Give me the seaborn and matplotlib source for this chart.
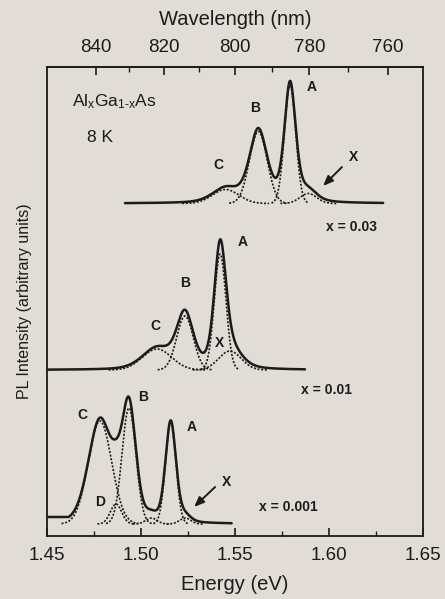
import numpy as np
import pandas as pd
import matplotlib
matplotlib.use("Agg")
import matplotlib.pyplot as plt
from matplotlib.ticker import FixedLocator, MultipleLocator
import seaborn as sns

# ---------------- data ----------------
# energies in eV, intensities in arbitrary units
spectra = ["x = 0.03", "x = 0.01", "x = 0.001"]
offsets = [332.5, 166.0, 12.0]
solid_start = [1.4915, 1.45, 1.45]
solid_end = [1.6288, 1.5872, 1.5482]
tail_fraction = [0.40, 0.35, 0.25]
left_level = [0.0, 0.0, 7.0]
left_level_end = [1.45, 1.45, 1.466]

top_labels = ["A", "B", "C", "X"]
top_centers = [1.5793, 1.5624, 1.5450, 1.5890]
top_heights = [118, 72, 14, 10]
top_widths = [0.0030, 0.0047, 0.0070, 0.0045]

mid_labels = ["A", "B", "C", "X"]
mid_centers = [1.5421, 1.5234, 1.5085, 1.5473]
mid_heights = [116, 54, 21, 19]
mid_widths = [0.0031, 0.0044, 0.0078, 0.0060]

bot_labels = ["A", "B", "C", "D", "X", "-"]
bot_centers = [1.5158, 1.4936, 1.4782, 1.4867, 1.5235, 1.5055]
bot_heights = [101, 116, 103, 20, 6, 6]
bot_widths = [0.0028, 0.0037, 0.0062, 0.0030, 0.0030, 0.0030]

energy_ticks = [1.45, 1.50, 1.55, 1.60, 1.65]
wavelength_ticks = [840, 820, 800, 780, 760]
wavelength_minor = [830, 810, 790, 770]

components = [
    (top_labels, top_centers, top_heights, top_widths),
    (mid_labels, mid_centers, mid_heights, mid_widths),
    (bot_labels, bot_centers, bot_heights, bot_widths),
]

# ---------------- build tables ----------------
def gauss(E, c, h, w):
    return h * np.exp(-0.5 * ((E - c) / w) ** 2)

def pvoigt(E, c, h, w, eta):
    gam = w * np.sqrt(2 * np.log(2))
    return h * (eta / (1 + ((E - c) / gam) ** 2)
                + (1 - eta) * np.exp(-0.5 * ((E - c) / w) ** 2))

solid_rows = []
comp_rows = []
for i, name in enumerate(spectra):
    labs, cs, hs, ws = components[i]
    E = np.linspace(solid_start[i], solid_end[i], 900)
    tot = np.zeros_like(E)
    for c, h, w in zip(cs, hs, ws):
        tot += pvoigt(E, c, h, w, tail_fraction[i])
    lvl = np.where(E < left_level_end[i], left_level[i], 0.0)
    tot = np.maximum(tot, lvl) + offsets[i]
    solid_rows.append(pd.DataFrame({"E": E, "I": tot, "spec": name}))
    for j, (l, c, h, w) in enumerate(zip(labs, cs, hs, ws)):
        Ec = np.linspace(c - 3.3 * w, c + 3.3 * w, 200)
        comp_rows.append(pd.DataFrame({"E": Ec, "I": gauss(Ec, c, h, w) + offsets[i],
                                       "comp": f"{name}-{j}"}))
solid_df = pd.concat(solid_rows, ignore_index=True)
comp_df = pd.concat(comp_rows, ignore_index=True)

# ---------------- plotting ----------------
sns.set_theme(style="ticks")
bg = "#e1ddd6"
ink = "#1b1b1b"
plt.rcParams["font.family"] = ["Liberation Sans", "DejaVu Sans"]
plt.rcParams["mathtext.fontset"] = "custom"
plt.rcParams["mathtext.rm"] = "Liberation Sans"
plt.rcParams["mathtext.default"] = "regular"

fig = plt.figure(figsize=(4.45, 5.99), dpi=100, facecolor=bg)
ax = fig.add_axes([47 / 445, 1 - 536 / 599, 376 / 445, 469 / 599])
ax.set_facecolor(bg)

sns.lineplot(data=comp_df, x="E", y="I", units="comp", estimator=None, ax=ax,
             color=ink, lw=1.2, linestyle=(0, (1.2, 1.0)), sort=False, legend=False)
sns.lineplot(data=solid_df, x="E", y="I", units="spec", estimator=None, ax=ax,
             color=ink, lw=1.8, sort=False, legend=False)

ax.set_xlim(1.45, 1.65)
ax.set_ylim(0, 469)
ax.set_yticks([])
ax.set_xticks(energy_ticks)
ax.set_xticklabels([f"{t:.2f}" for t in energy_ticks])
ax.xaxis.set_minor_locator(MultipleLocator(0.025))
ax.tick_params(axis="x", which="major", direction="in", length=6, width=1.2,
               labelsize=13.5, pad=8, colors=ink)
ax.tick_params(axis="x", which="minor", direction="in", length=3.5, width=1.0, colors=ink)
for s in ax.spines.values():
    s.set_linewidth(1.3)
    s.set_color(ink)
ax.set_xlabel("Energy (eV)", fontsize=14.5, labelpad=8, color=ink)
ax.set_ylabel("PL Intensity (arbitrary units)", fontsize=11.5, labelpad=11, color=ink)

def e2w(E):
    E = np.asarray(E, dtype=float)
    with np.errstate(divide="ignore", invalid="ignore"):
        return 1239.84 / E

sec = ax.secondary_xaxis("top", functions=(e2w, e2w))
sec.set_xticks(wavelength_ticks)
sec.set_xticklabels([str(t) for t in wavelength_ticks])
sec.xaxis.set_minor_locator(FixedLocator(wavelength_minor))
sec.tick_params(axis="x", which="major", direction="in", length=6, width=1.2,
                labelsize=13.5, pad=8, colors=ink)
sec.tick_params(axis="x", which="minor", direction="in", length=3.5, width=1.0, colors=ink)
sec.spines["top"].set_linewidth(1.3)
sec.set_xlabel("Wavelength (nm)", fontsize=14.5, labelpad=10, color=ink)

lab_kw = dict(fontsize=10, fontweight="bold", color=ink, ha="center", va="center")
# top spectrum
ax.text(1.5910, 449, "A", **lab_kw)
ax.text(1.5606, 428, "B", **lab_kw)
ax.text(1.5410, 371, "C", **lab_kw)
ax.text(1.6128, 379, "X", **lab_kw)
ax.text(1.6122, 309, spectra[0], fontsize=10, fontweight="bold", color=ink, ha="center", va="center")
# middle spectrum
ax.text(1.5543, 294, "A", **lab_kw)
ax.text(1.5234, 253, "B", **lab_kw)
ax.text(1.5074, 210, "C", **lab_kw)
ax.text(1.5420, 193, "X", **lab_kw)
ax.text(1.5989, 146, spectra[1], fontsize=10, fontweight="bold", color=ink, ha="center", va="center")
# bottom spectrum
ax.text(1.4686, 121, "C", **lab_kw)
ax.text(1.5011, 139, "B", **lab_kw)
ax.text(1.5271, 109, "A", **lab_kw)
ax.text(1.4782, 34, "D", **lab_kw)
ax.text(1.5457, 54, "X", **lab_kw)
ax.text(1.5782, 29, spectra[2], fontsize=10, fontweight="bold", color=ink, ha="center", va="center")

ax.text(1.4633, 434, r"Al$_x$Ga$_{1\text{-}x}$As", fontsize=12.5, color=ink, ha="left", va="center")
ax.text(1.4713, 398, "8 K", fontsize=12.5, color=ink, ha="left", va="center")

arr = dict(arrowstyle="-|>,head_length=0.5,head_width=0.2", color=ink, lw=1.4,
           shrinkA=0, shrinkB=0)
ax.annotate("", xy=(1.5968, 350), xytext=(1.6069, 369), arrowprops=arr)
ax.annotate("", xy=(1.5282, 29), xytext=(1.5394, 49), arrowprops=arr)

fig.savefig("out.png", dpi=100, facecolor=bg)
